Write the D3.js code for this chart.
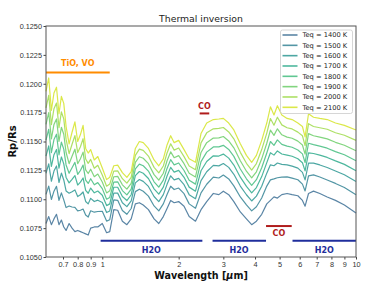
<!DOCTYPE html>
<html>
<head>
<meta charset="utf-8">
<script src="https://cdn.jsdelivr.net/npm/d3@7"></script>
<style>
  body { margin: 0; background: #fff; }
  svg { font-family: "DejaVu Sans", sans-serif; }
  .tick text { fill: #333; }
</style>
</head>
<body>
<div id="chart"></div>
<script>
// wavelength grid (micron)
var wavelength = [0.60, 0.615, 0.63, 0.645, 0.66, 0.675, 0.69, 0.705, 0.72, 0.74,
  0.76, 0.78, 0.80, 0.82, 0.84, 0.86, 0.88, 0.90, 0.93, 0.96,
  1.00, 1.04, 1.07, 1.11, 1.15, 1.20, 1.25, 1.30, 1.35, 1.40,
  1.45, 1.52, 1.60, 1.67, 1.74, 1.80, 1.86, 1.92, 2.00, 2.10,
  2.20, 2.33, 2.45, 2.58, 2.74, 2.88, 3.00, 3.15, 3.30, 3.50,
  3.70, 3.88, 4.05, 4.25, 4.45, 4.60, 4.75, 4.90, 5.10, 5.35,
  5.60, 5.90, 6.15, 6.30, 6.50, 6.80, 7.20, 7.70, 8.30, 9.00, 10.0];

// Rp/Rs for each equilibrium temperature
var rp1400 = [0.10790, 0.10850, 0.10780, 0.10830, 0.10870, 0.10780, 0.10820, 0.10760, 0.10730, 0.10790,
  0.10750, 0.10720, 0.10730, 0.10720, 0.10710, 0.10700, 0.10690, 0.10750, 0.10760, 0.10760,
  0.10790, 0.10710, 0.10720, 0.10910, 0.10905, 0.10810, 0.10780, 0.10830, 0.10960, 0.10970,
  0.10950, 0.10910, 0.10830, 0.10790, 0.10850, 0.10920, 0.10990, 0.10970, 0.10980, 0.10940,
  0.10850, 0.10810, 0.10910, 0.10980, 0.11050, 0.11040, 0.11070, 0.11040, 0.10980, 0.10890,
  0.10830, 0.10780, 0.10810, 0.10870, 0.10960, 0.10990, 0.11020, 0.11010, 0.11040, 0.11050,
  0.11040, 0.11030, 0.10990, 0.10940, 0.11050, 0.11070, 0.11050, 0.11020, 0.10990, 0.10950, 0.10880];
var rp1500 = [0.11042, 0.11114, 0.10998, 0.11070, 0.11112, 0.10991, 0.11055, 0.10995, 0.10928, 0.10942,
  0.10933, 0.10929, 0.10899, 0.10905, 0.10915, 0.10863, 0.10846, 0.10900, 0.10888, 0.10894,
  0.10896, 0.10811, 0.10823, 0.10994, 0.10991, 0.10902, 0.10870, 0.10920, 0.11066, 0.11087,
  0.11069, 0.11027, 0.10942, 0.10900, 0.10960, 0.11041, 0.11113, 0.11084, 0.11097, 0.11048,
  0.10960, 0.10922, 0.11055, 0.11130, 0.11191, 0.11184, 0.11209, 0.11176, 0.11116, 0.11020,
  0.10951, 0.10899, 0.10935, 0.11011, 0.11114, 0.11168, 0.11176, 0.11186, 0.11192, 0.11193,
  0.11183, 0.11169, 0.11131, 0.11072, 0.11202, 0.11211, 0.11193, 0.11167, 0.11137, 0.11102, 0.11038];
var rp1600 = [0.11225, 0.11306, 0.11156, 0.11244, 0.11288, 0.11145, 0.11227, 0.11167, 0.11072, 0.11052,
  0.11065, 0.11081, 0.11023, 0.11039, 0.11063, 0.10981, 0.10960, 0.11008, 0.10980, 0.10992,
  0.10972, 0.10885, 0.10899, 0.11054, 0.11053, 0.10970, 0.10936, 0.10986, 0.11142, 0.11171,
  0.11155, 0.11111, 0.11024, 0.10980, 0.11040, 0.11129, 0.11203, 0.11168, 0.11181, 0.11126,
  0.11040, 0.11004, 0.11161, 0.11238, 0.11293, 0.11289, 0.11309, 0.11276, 0.11216, 0.11114,
  0.11039, 0.10985, 0.11027, 0.11113, 0.11226, 0.11298, 0.11290, 0.11314, 0.11302, 0.11297,
  0.11287, 0.11269, 0.11233, 0.11168, 0.11312, 0.11313, 0.11297, 0.11275, 0.11245, 0.11212, 0.11154];
var rp1700 = [0.11374, 0.11462, 0.11285, 0.11386, 0.11431, 0.11270, 0.11366, 0.11306, 0.11189, 0.11142,
  0.11173, 0.11205, 0.11123, 0.11148, 0.11184, 0.11077, 0.11052, 0.11097, 0.11056, 0.11071,
  0.11035, 0.10945, 0.10960, 0.11104, 0.11104, 0.11024, 0.10989, 0.11039, 0.11205, 0.11240,
  0.11225, 0.11180, 0.11090, 0.11045, 0.11105, 0.11201, 0.11276, 0.11235, 0.11250, 0.11190,
  0.11105, 0.11070, 0.11247, 0.11327, 0.11376, 0.11374, 0.11391, 0.11356, 0.11296, 0.11191,
  0.11111, 0.11055, 0.11101, 0.11196, 0.11317, 0.11403, 0.11382, 0.11418, 0.11392, 0.11382,
  0.11372, 0.11351, 0.11316, 0.11246, 0.11402, 0.11396, 0.11382, 0.11362, 0.11332, 0.11302, 0.11247];
var rp1800 = [0.11511, 0.11606, 0.11404, 0.11517, 0.11563, 0.11385, 0.11494, 0.11434, 0.11297, 0.11225,
  0.11273, 0.11319, 0.11215, 0.11249, 0.11296, 0.11166, 0.11137, 0.11178, 0.11125, 0.11144,
  0.11092, 0.11000, 0.11016, 0.11149, 0.11151, 0.11075, 0.11038, 0.11088, 0.11262, 0.11304,
  0.11290, 0.11244, 0.11151, 0.11105, 0.11165, 0.11267, 0.11343, 0.11298, 0.11314, 0.11249,
  0.11165, 0.11131, 0.11326, 0.11408, 0.11453, 0.11453, 0.11467, 0.11431, 0.11371, 0.11262,
  0.11177, 0.11120, 0.11169, 0.11273, 0.11401, 0.11500, 0.11467, 0.11514, 0.11475, 0.11460,
  0.11450, 0.11427, 0.11393, 0.11318, 0.11485, 0.11473, 0.11460, 0.11442, 0.11412, 0.11385, 0.11334];
var rp1900 = [0.11649, 0.11750, 0.11523, 0.11648, 0.11695, 0.11500, 0.11623, 0.11563, 0.11405, 0.11308,
  0.11373, 0.11433, 0.11308, 0.11350, 0.11408, 0.11255, 0.11223, 0.11260, 0.11195, 0.11218,
  0.11150, 0.11055, 0.11073, 0.11195, 0.11198, 0.11125, 0.11088, 0.11138, 0.11320, 0.11368,
  0.11355, 0.11308, 0.11213, 0.11165, 0.11225, 0.11333, 0.11410, 0.11360, 0.11378, 0.11308,
  0.11225, 0.11193, 0.11405, 0.11490, 0.11530, 0.11531, 0.11543, 0.11505, 0.11445, 0.11333,
  0.11243, 0.11185, 0.11238, 0.11350, 0.11485, 0.11598, 0.11553, 0.11610, 0.11558, 0.11538,
  0.11528, 0.11503, 0.11470, 0.11390, 0.11568, 0.11550, 0.11538, 0.11523, 0.11493, 0.11468, 0.11420];
var rp2000 = [0.11792, 0.11900, 0.11646, 0.11784, 0.11833, 0.11620, 0.11756, 0.11696, 0.11518, 0.11394,
  0.11476, 0.11551, 0.11404, 0.11455, 0.11524, 0.11348, 0.11311, 0.11345, 0.11268, 0.11294,
  0.11210, 0.11113, 0.11131, 0.11243, 0.11246, 0.11178, 0.11139, 0.11189, 0.11380, 0.11434,
  0.11423, 0.11374, 0.11276, 0.11228, 0.11288, 0.11401, 0.11480, 0.11425, 0.11444, 0.11369,
  0.11288, 0.11256, 0.11488, 0.11575, 0.11610, 0.11613, 0.11621, 0.11583, 0.11523, 0.11406,
  0.11311, 0.11253, 0.11309, 0.11430, 0.11573, 0.11699, 0.11641, 0.11710, 0.11644, 0.11619,
  0.11609, 0.11581, 0.11550, 0.11465, 0.11654, 0.11630, 0.11619, 0.11606, 0.11576, 0.11554, 0.11510];
var rp2100 = [0.11935, 0.12050, 0.11770, 0.11920, 0.11970, 0.11740, 0.11890, 0.11830, 0.11630, 0.11480,
  0.11580, 0.11670, 0.11500, 0.11560, 0.11640, 0.11440, 0.11400, 0.11430, 0.11340, 0.11370,
  0.11270, 0.11170, 0.11190, 0.11290, 0.11295, 0.11230, 0.11190, 0.11240, 0.11440, 0.11500,
  0.11490, 0.11440, 0.11340, 0.11290, 0.11350, 0.11470, 0.11550, 0.11490, 0.11510, 0.11430,
  0.11350, 0.11320, 0.11570, 0.11660, 0.11690, 0.11695, 0.11700, 0.11660, 0.11600, 0.11480,
  0.11380, 0.11320, 0.11380, 0.11510, 0.11660, 0.11800, 0.11730, 0.11810, 0.11730, 0.11700,
  0.11690, 0.11660, 0.11630, 0.11540, 0.11740, 0.11710, 0.11700, 0.11690, 0.11660, 0.11640, 0.11600];

var teq = [1400, 1500, 1600, 1700, 1800, 1900, 2000, 2100];
var spectra = [rp1400, rp1500, rp1600, rp1700, rp1800, rp1900, rp2000, rp2100];

var xTicks = [0.7, 0.8, 0.9, 1, 2, 3, 4, 5, 6, 7, 8, 9, 10];
var yTicks = [0.105, 0.1075, 0.11, 0.1125, 0.115, 0.1175, 0.12, 0.1225, 0.125];

// molecule bands: [from, to] in micron, and level in Rp/Rs
var h2oBands = [[0.985, 2.48], [2.72, 4.42], [5.62, 10]];
var h2oLabelAt = [1.56, 3.46, 7.5];
var h2oLevel = 0.10641;
var tioBand = [0.6, 1.07];
var tioLevel = 0.12098;
var tioLabelAt = 0.80;
var coTop = [2.42, 2.64];
var coTopLevel = 0.11743;
var coBottom = [4.42, 5.58];
var coBottomLevel = 0.10768;

// svg container
var svgWidth = 385;
var svgHeight = 288;
var margin = { top: 26, right: 29, bottom: 31, left: 46 };
var chartWidth = svgWidth - margin.left - margin.right;
var chartHeight = svgHeight - margin.top - margin.bottom;

var svg = d3.select("#chart").append("svg")
  .attr("width", svgWidth)
  .attr("height", svgHeight);

var chartGroup = svg.append("g")
  .attr("transform", `translate(${margin.left}, ${margin.top})`);

// scales
var xScale = d3.scaleLog().domain([0.6, 10]).range([0, chartWidth]);
var yScale = d3.scaleLinear().domain([0.105, 0.125]).range([chartHeight, 0]);

// colours, viridis with some transparency
var colour = d3.scaleOrdinal()
  .domain(teq)
  .range(teq.map((t, i) => d3.interpolateViridis(0.33 + i * 0.6 / 7)));

// axes
var xAxis = d3.axisBottom(xScale)
  .tickValues(xTicks)
  .tickFormat(d3.format("~g"))
  .tickSize(2.5)
  .tickPadding(2);
var yAxis = d3.axisLeft(yScale)
  .tickValues(yTicks)
  .tickFormat(d3.format(".4f"))
  .tickSize(2.5)
  .tickPadding(1.5);

var gx = chartGroup.append("g")
  .attr("transform", `translate(0, ${chartHeight})`)
  .call(xAxis);
var gy = chartGroup.append("g").call(yAxis);

[gx, gy].forEach(function(g) {
  g.select(".domain").remove();
  g.selectAll(".tick line").attr("stroke", "#444");
  g.selectAll(".tick text").style("font-size", "7.3px");
});

// spectra
var line = d3.line()
  .x((d, i) => xScale(wavelength[i]))
  .y(d => yScale(d));

chartGroup.selectAll(".spectrum")
  .data(spectra)
  .enter()
  .append("path")
  .attr("class", "spectrum")
  .attr("d", line)
  .attr("fill", "none")
  .attr("stroke", (d, i) => colour(teq[i]))
  .attr("stroke-opacity", 0.8)
  .attr("stroke-width", 1.2)
  .attr("stroke-linejoin", "round");

// band annotations
function band(range, level, col) {
  chartGroup.append("line")
    .attr("x1", xScale(range[0]))
    .attr("x2", xScale(range[1]))
    .attr("y1", yScale(level))
    .attr("y2", yScale(level))
    .attr("stroke", col)
    .attr("stroke-width", 2);
}
function label(txt, at, level, dy, col) {
  chartGroup.append("text")
    .attr("x", xScale(at))
    .attr("y", yScale(level) + dy)
    .attr("text-anchor", "middle")
    .style("font-size", "8px")
    .style("font-weight", "bold")
    .attr("fill", col)
    .text(txt);
}

var h2oColour = "#1f2e9c";
h2oBands.forEach(b => band(b, h2oLevel, h2oColour));
h2oLabelAt.forEach(a => label("H2O", a, h2oLevel, 12.5, h2oColour));

band(tioBand, tioLevel, "#ff8c00");
label("TiO, VO", tioLabelAt, tioLevel, -6, "#ff8c00");

band(coTop, coTopLevel, "#b01c1c");
label("CO", Math.sqrt(coTop[0] * coTop[1]), coTopLevel, -4, "#b01c1c");
band(coBottom, coBottomLevel, "#b01c1c");
label("CO", Math.sqrt(coBottom[0] * coBottom[1]), coBottomLevel, 10, "#b01c1c");

// frame
chartGroup.append("rect")
  .attr("width", chartWidth)
  .attr("height", chartHeight)
  .attr("fill", "none")
  .attr("stroke", "#555")
  .attr("stroke-width", 1);

// legend
var legend = chartGroup.append("g")
  .attr("transform", `translate(${chartWidth - 75.5}, 4)`);

legend.append("rect")
  .attr("width", 72)
  .attr("height", 83.5)
  .attr("rx", 2)
  .attr("fill", "#fff")
  .attr("fill-opacity", 0.85)
  .attr("stroke", "#ccc")
  .attr("stroke-width", 0.8);

var rows = legend.selectAll(".row")
  .data(teq)
  .enter()
  .append("g")
  .attr("transform", (d, i) => `translate(0, ${5 + i * 10.33})`);

rows.append("line")
  .attr("x1", 2)
  .attr("x2", 17)
  .attr("stroke", d => colour(d))
  .attr("stroke-opacity", 0.8)
  .attr("stroke-width", 1.6);

rows.append("text")
  .attr("x", 22)
  .attr("y", 2.4)
  .style("font-size", "6.7px")
  .attr("fill", "#222")
  .text(d => `Teq = ${d} K`);

// titles
svg.append("text")
  .attr("x", margin.left + chartWidth / 2)
  .attr("y", 22)
  .attr("text-anchor", "middle")
  .style("font-size", "9.3px")
  .attr("fill", "#222")
  .text("Thermal inversion");

var xlab = svg.append("text")
  .attr("x", margin.left + chartWidth / 2)
  .attr("y", 278.5)
  .attr("text-anchor", "middle")
  .style("font-size", "9.6px")
  .style("font-weight", "bold")
  .attr("fill", "#111");
xlab.append("tspan").text("Wavelength [");
xlab.append("tspan").style("font-style", "italic").text("\u03bc");
xlab.append("tspan").text("m]");

svg.append("text")
  .attr("transform", `translate(16, ${margin.top + chartHeight / 2}) rotate(-90)`)
  .attr("text-anchor", "middle")
  .style("font-size", "10px")
  .style("font-weight", "bold")
  .attr("fill", "#111")
  .text("Rp/Rs");
</script>
</body>
</html>
